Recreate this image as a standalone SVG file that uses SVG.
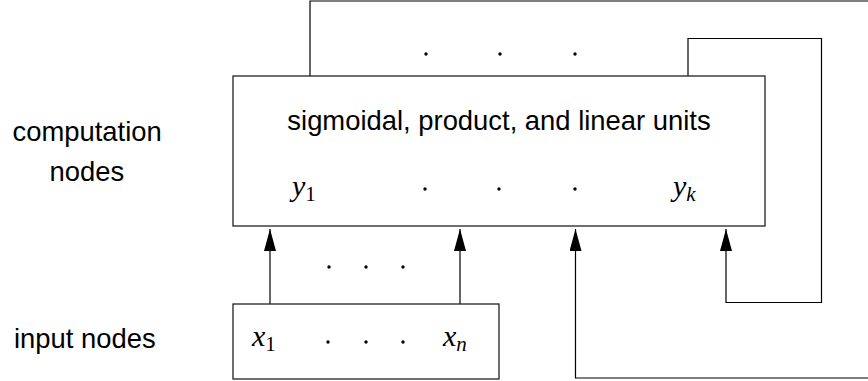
<svg xmlns="http://www.w3.org/2000/svg" width="868" height="381" viewBox="0 0 868 381">
<style>
  .box { fill: #fff; stroke: #222; stroke-width: 1.3; }
  .conn { fill: none; stroke: #000; stroke-width: 1.2; }
  .lbl { font-family: "Liberation Sans", Arial, sans-serif; font-size: 27.4px; fill: #000; }
  .math { font-family: "Liberation Serif", "Times New Roman", serif; font-style: italic; font-size: 30px; fill: #000; }
  .sub { font-size: 21px; }
  .num { font-style: normal; }
  .dot { fill: #000; }
</style>
<defs>
  <marker id="arrow" viewBox="0 0 22 12" refX="22" refY="6" markerWidth="22" markerHeight="12" markerUnits="userSpaceOnUse" orient="auto">
    <path d="M0,0 L22,6 L0,12 z" fill="#000"/>
  </marker>
</defs>
<rect width="868" height="381" fill="#fff"/>

<g id="connectors">
  <path class="conn" d="M310,76 V1 H872 V378 H575.5 V229" marker-end="url(#arrow)"/>
  <path class="conn" d="M688,76 V38.5 H821.5 V302.5 H726 V229" marker-end="url(#arrow)"/>
  <path class="conn" d="M270,304 V229" marker-end="url(#arrow)"/>
  <path class="conn" d="M460,304 V229" marker-end="url(#arrow)"/>
  <circle class="dot" cx="426" cy="54" r="1.7"/>
  <circle class="dot" cx="500" cy="54" r="1.7"/>
  <circle class="dot" cx="575" cy="54" r="1.7"/>
  <circle class="dot" cx="329" cy="267" r="1.7"/>
  <circle class="dot" cx="366" cy="267" r="1.7"/>
  <circle class="dot" cx="403" cy="267" r="1.7"/>
</g>

<g id="computation-nodes">
  <rect class="box" x="233" y="76" width="532" height="150"/>
  <text class="lbl" x="499" y="130" text-anchor="middle">sigmoidal, product, and linear units</text>
  <text class="math" x="292" y="196">y<tspan class="sub num" dy="5">1</tspan></text>
  <circle class="dot" cx="425" cy="189" r="1.7"/>
  <circle class="dot" cx="499" cy="189" r="1.7"/>
  <circle class="dot" cx="575" cy="189" r="1.7"/>
  <text class="math" x="673" y="196">y<tspan class="sub" dy="5">k</tspan></text>
</g>

<g id="input-nodes">
  <rect class="box" x="233" y="304" width="266" height="75"/>
  <text class="math" x="252" y="346">x<tspan class="sub num" dy="5">1</tspan></text>
  <circle class="dot" cx="328" cy="342" r="1.7"/>
  <circle class="dot" cx="366" cy="342" r="1.7"/>
  <circle class="dot" cx="403" cy="342" r="1.7"/>
  <text class="math" x="443" y="346">x<tspan class="sub" dy="5">n</tspan></text>
</g>

<g id="side-labels">
  <text class="lbl" x="12.5" y="141">computation</text>
  <text class="lbl" x="49.5" y="181">nodes</text>
  <text class="lbl" x="14" y="348">input nodes</text>
</g>
</svg>
